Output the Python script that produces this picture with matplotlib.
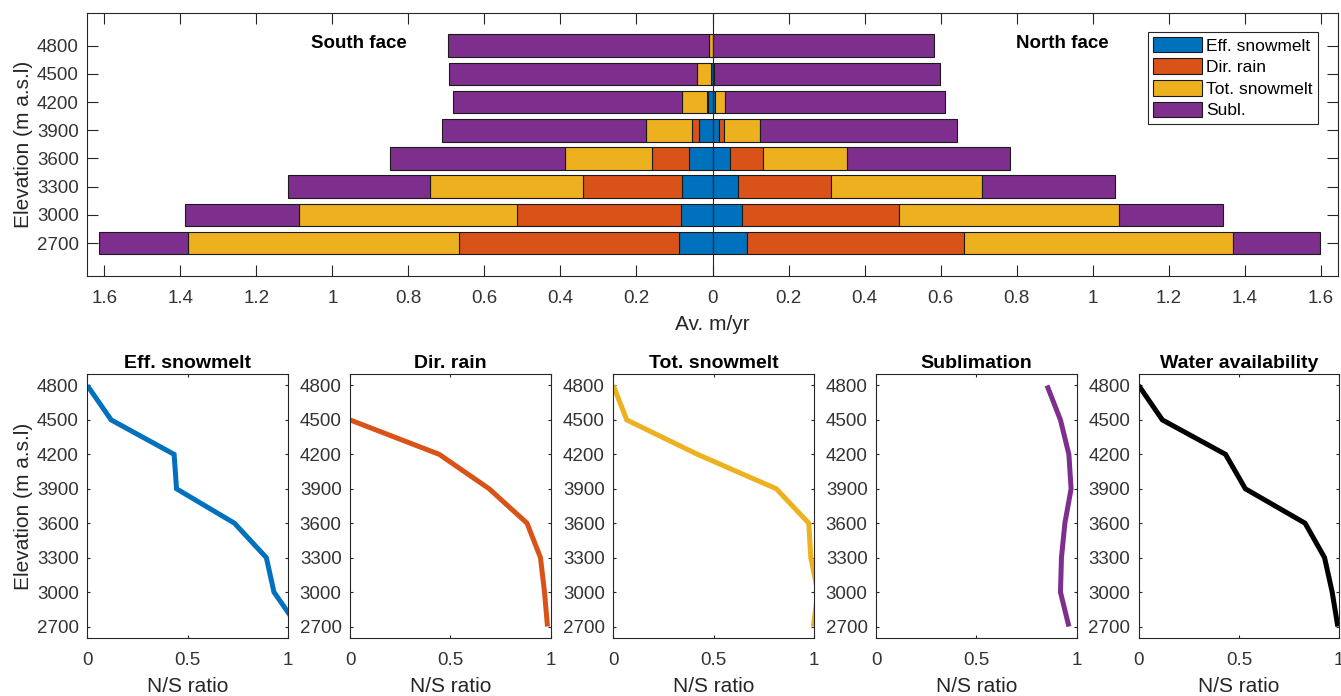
import numpy as np
import matplotlib.pyplot as plt
from matplotlib.ticker import FuncFormatter

plt.rcParams['font.family'] = ['Liberation Sans', 'DejaVu Sans']
plt.rcParams['axes.edgecolor'] = '#262626'
plt.rcParams['xtick.color'] = '#262626'
plt.rcParams['ytick.color'] = '#262626'

# ---- data -------------------------------------------------------------
elev = [2700, 3000, 3300, 3600, 3900, 4200, 4500, 4800]
components = ['Eff. snowmelt', 'Dir. rain', 'Tot. snowmelt', 'Subl.']

# south face, average m/yr
south_eff = [0.087, 0.083, 0.079, 0.063, 0.035, 0.013, 0.003, 0.000]
south_rain = [0.581, 0.432, 0.263, 0.096, 0.019, 0.002, 0.002, 0.000]
south_tot = [0.711, 0.572, 0.401, 0.229, 0.121, 0.064, 0.036, 0.009]
south_subl = [0.236, 0.300, 0.374, 0.460, 0.536, 0.604, 0.652, 0.688]

# north face, average m/yr
north_eff = [0.090, 0.077, 0.068, 0.046, 0.016, 0.006, 0.0004, 0.000]
north_rain = [0.571, 0.415, 0.243, 0.086, 0.013, 0.001, 0.000, 0.000]
north_tot = [0.709, 0.577, 0.398, 0.223, 0.097, 0.027, 0.004, 0.000]
north_subl = [0.228, 0.275, 0.349, 0.429, 0.517, 0.579, 0.593, 0.583]

# N/S ratios per elevation band
ratio_titles = ['Eff. snowmelt', 'Dir. rain', 'Tot. snowmelt', 'Sublimation', 'Water availability']
ratio_eff = [1.05, 0.931, 0.893, 0.734, 0.445, 0.433, 0.119, 0.0]
ratio_rain = [0.985, 0.970, 0.950, 0.883, 0.694, 0.445, 0.0, np.nan]
ratio_tot = [0.998, 1.02, 0.985, 0.975, 0.813, 0.42, 0.067, 0.0]
ratio_subl = [0.962, 0.920, 0.925, 0.942, 0.973, 0.962, 0.920, 0.853]
ratio_water = [0.993, 0.965, 0.927, 0.830, 0.532, 0.433, 0.118, 0.0]

colors = ['#0072BD', '#D95319', '#EDB120', '#7E2F8E']
ratio_colors = colors + ['black']

W, H = 1341, 696
TICK_FS = 13.5
LABEL_FS = 15
fig = plt.figure(figsize=(W / 100, H / 100), dpi=100)

# ---- top: stacked horizontal bars, south to the left ------------------
ax = fig.add_axes([87.3 / W, 1 - 276 / H, 1250.4 / W, 263.3 / H])
south = [south_eff, south_rain, south_tot, south_subl]
north = [north_eff, north_rain, north_tot, north_subl]
cum_s = np.zeros(len(elev))
cum_n = np.zeros(len(elev))
for vals_s, vals_n, c, lab in zip(south, north, colors, components):
    vs = np.array(vals_s)
    vn = np.array(vals_n)
    ax.barh(elev, -vs, left=-cum_s, height=240, color=c, edgecolor='#1a1a1a',
            linewidth=0.8, label=lab)
    ax.barh(elev, vn, left=cum_n, height=240, color=c, edgecolor='#1a1a1a',
            linewidth=0.8)
    cum_s += vs
    cum_n += vn

ax.axvline(0, color='#262626', lw=0.8, zorder=3)
ax.set_xlim(-1.645, 1.645)
ax.set_ylim(2350, 5150)
ax.set_yticks(elev)
ax.set_xticks(np.round(np.arange(-1.6, 1.61, 0.2), 1))
ax.xaxis.set_major_formatter(FuncFormatter(lambda v, p: '%g' % abs(round(v, 1))))
ax.tick_params(direction='in', top=True, right=True, length=8, width=0.8,
               labelsize=TICK_FS, labelcolor='#333333')
ax.tick_params(axis='x', pad=10)
ax.tick_params(axis='y', pad=6)
ax.set_xlabel('Av. m/yr', fontsize=LABEL_FS, labelpad=6, color='#262626')
ax.set_ylabel('Elevation (m a.s.l)', fontsize=LABEL_FS, labelpad=3, color='#262626')
for s in ax.spines.values():
    s.set_linewidth(0.8)

ax.text(-0.93, 4820, 'South face', fontsize=13.5, fontweight='bold',
        ha='center', va='center')
ax.text(0.92, 4820, 'North face', fontsize=13.5, fontweight='bold',
        ha='center', va='center')

leg = ax.legend(loc='upper right', bbox_to_anchor=(0.984, 0.928),
                borderaxespad=0, fontsize=12.5, fancybox=False, framealpha=1,
                edgecolor='#262626', handlelength=2.8, handleheight=1.0,
                handletextpad=0.25, labelspacing=0.28, borderpad=0.3)
leg.get_frame().set_linewidth(0.8)

# ---- bottom: N/S ratio profiles ---------------------------------------
ratios = [ratio_eff, ratio_rain, ratio_tot, ratio_subl, ratio_water]
lefts = [87.3, 350, 613.3, 876, 1138.7]
for i, (left, r, c, t) in enumerate(zip(lefts, ratios, ratio_colors, ratio_titles)):
    a = fig.add_axes([left / W, 1 - 638 / H, 200.5 / W, 264 / H])
    a.plot(r, elev, color=c, lw=3.6, solid_capstyle='butt', solid_joinstyle='miter')
    a.set_xlim(0, 1)
    a.set_ylim(2600, 4900)
    a.set_xticks([0, 0.5, 1])
    a.set_xticklabels(['0', '0.5', '1'])
    a.set_yticks(elev)
    a.tick_params(direction='in', top=True, right=True, length=2.5, width=0.8,
                  labelsize=TICK_FS, labelcolor='#333333')
    a.tick_params(axis='x', pad=10)
    a.tick_params(axis='y', pad=6)
    a.set_xlabel('N/S ratio', fontsize=LABEL_FS, labelpad=6, color='#262626')
    a.set_title(t, fontsize=14, fontweight='bold', pad=4)
    if i == 0:
        a.set_ylabel('Elevation (m a.s.l)', fontsize=LABEL_FS, labelpad=3, color='#262626')
    for s in a.spines.values():
        s.set_linewidth(0.8)

fig.savefig('out.png', dpi=100)
